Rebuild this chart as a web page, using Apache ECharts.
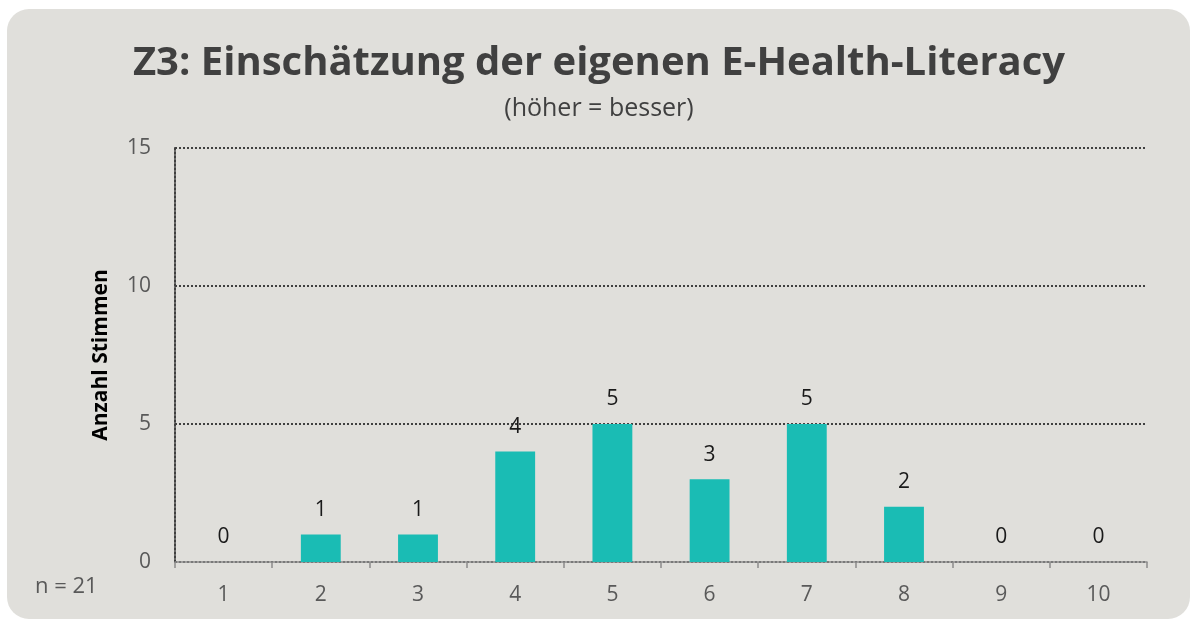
<!DOCTYPE html>
<html>
<head>
<meta charset="utf-8">
<script src="https://cdn.jsdelivr.net/npm/echarts@6/dist/echarts.min.js"></script>
<style>
  html, body { margin: 0; padding: 0; background: #ffffff; }
  #chart { width: 1198px; height: 621px; }
</style>
</head>
<body>
<div id="chart"></div>
<script>
// Bewertungsstufen 1–10 und Anzahl der Stimmen je Stufe
const categories = ['1', '2', '3', '4', '5', '6', '7', '8', '9', '10'];
const votes = [0, 1, 1, 4, 5, 3, 5, 2, 0, 0];
const yTicks = { min: 0, max: 15, interval: 5 };
const titleText = 'Z3: Einschätzung der eigenen E-Health-Literacy';
const subtitleText = '(höher = besser)';
const yAxisName = 'Anzahl Stimmen';
const sampleNote = 'n = 21';

const font = '"Open Sans", "Noto Sans", sans-serif';
const chart = echarts.init(document.getElementById('chart'), null, { renderer: 'canvas' });

chart.setOption({
  backgroundColor: '#ffffff',
  animation: false,
  graphic: [
    {
      type: 'rect',
      z: -10,
      silent: true,
      shape: { x: 7, y: 9, width: 1183, height: 610, r: 22 },
      style: { fill: '#e0dfdb' }
    },
    {
      type: 'text',
      left: 35,
      top: 576,
      style: { text: sampleNote, font: '22px ' + font, fill: '#595959' }
    }
  ],
  title: {
    text: titleText,
    subtext: subtitleText,
    left: 'center',
    top: 39,
    itemGap: 12,
    textStyle: { fontFamily: font, fontSize: 40, fontWeight: 'bold', color: '#404040' },
    subtextStyle: { fontFamily: font, fontSize: 25, color: '#404040' }
  },
  grid: { left: 175, right: 51, top: 148, bottom: 59, containLabel: false },
  xAxis: {
    type: 'category',
    data: categories,
    axisLine: { lineStyle: { color: '#8c8c8c', width: 1.5 } },
    axisTick: { show: true, length: 6, lineStyle: { color: '#8c8c8c', width: 1.5 } },
    axisLabel: { fontFamily: font, fontSize: 21, color: '#595959', margin: 23 }
  },
  yAxis: {
    type: 'value',
    min: yTicks.min,
    max: yTicks.max,
    interval: yTicks.interval,
    name: yAxisName,
    nameLocation: 'middle',
    nameGap: 63,
    nameTextStyle: { fontFamily: font, fontSize: 21, fontWeight: 'bold', color: '#000000' },
    axisLine: { show: true, lineStyle: { color: '#404040', width: 2, type: [2, 2] } },
    axisTick: { show: false },
    axisLabel: { fontFamily: font, fontSize: 21, color: '#595959', margin: 24 },
    splitLine: { show: true, lineStyle: { color: '#404040', width: 2, type: [2, 2] } }
  },
  series: [{
    type: 'bar',
    data: votes,
    barWidth: '41%',
    itemStyle: { color: '#1abcb4' },
    label: {
      show: true,
      position: 'top',
      distance: 14,
      fontFamily: font,
      fontSize: 21,
      color: '#1a1a1a'
    }
  }]
});
</script>
</body>
</html>
